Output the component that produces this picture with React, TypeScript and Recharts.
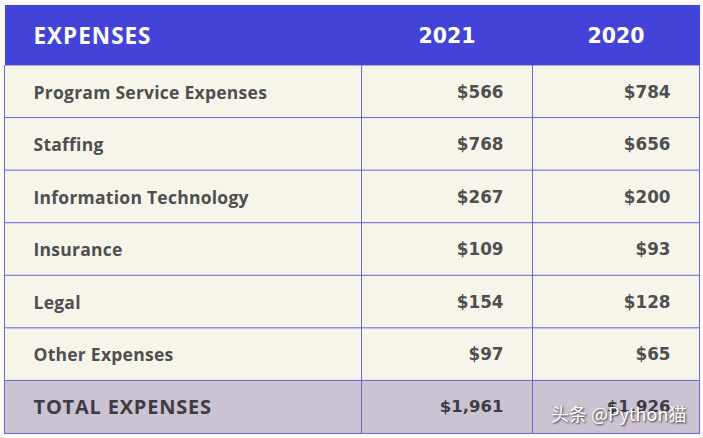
import React from 'react';
import { BarChart, Bar, XAxis, YAxis } from 'recharts';

const headers = ['EXPENSES', '2021', '2020'];
const rowLabels = [
  'Program Service Expenses',
  'Staffing',
  'Information Technology',
  'Insurance',
  'Legal',
  'Other Expenses',
  'TOTAL EXPENSES',
];
const values2021 = [566, 768, 267, 109, 154, 97, 1961];
const values2020 = [784, 656, 200, 93, 128, 65, 1926];

const COL_WIDTHS = [357, 171, 167];
const TABLE_W = COL_WIDTHS[0] + COL_WIDTHS[1] + COL_WIDTHS[2];

const BLUE = '#4343D9';
const CREAM = '#F7F5E9';
const TOTAL_BG = '#CBC2D2';
const LINE = '#6C66D6';
const TEXT = '#4F4F4F';
const TOTAL_TEXT = '#3E3B42';
const FONT = '"Open Sans", "Noto Sans", sans-serif';
const NUM_FONT = '"DejaVu Sans", "Open Sans", sans-serif';

const data = rowLabels.map((name, i) => ({
  name,
  colLabel: COL_WIDTHS[0],
  col2021: COL_WIDTHS[1],
  col2020: COL_WIDTHS[2],
  v2021: values2021[i],
  v2020: values2020[i],
  isTotal: i === rowLabels.length - 1,
}));

const fmt = (v: number) => '$' + v.toLocaleString('en-US');

const makeShape = (kind: 'label' | 'v2021' | 'v2020') => (props: any) => {
  const { x, y, width, height, payload } = props;
  const p = payload || {};
  const total = !!p.isTotal;
  const fill = total ? TOTAL_BG : CREAM;
  const color = total ? TOTAL_TEXT : TEXT;
  const isLabel = kind === 'label';
  const fs = isLabel ? (total ? 20 : 17.5) : total ? 16.5 : 16.8;
  const ls = isLabel ? (total ? 0.8 : 0.25) : 0;
  const txt = isLabel ? p.name : fmt(kind === 'v2021' ? p.v2021 : p.v2020);
  const tx = isLabel ? x + 29 : x + width - 29;
  return (
    <g>
      <rect x={x} y={y} width={width} height={height} fill={fill} stroke={LINE} strokeWidth={1} />
      <text
        x={tx}
        y={y + height / 2}
        textAnchor={isLabel ? 'start' : 'end'}
        dominantBaseline="central"
        fontFamily={isLabel ? FONT : NUM_FONT}
        fontWeight={700}
        fontSize={fs}
        letterSpacing={ls}
        fill={color}
      >
        {txt}
      </text>
    </g>
  );
};

const LabelShape = makeShape('label');
const V2021Shape = makeShape('v2021');
const V2020Shape = makeShape('v2020');

export default function App() {
  return (
    <div style={{ position: 'absolute', left: 0, top: 0, width: 703, height: 438, background: '#FBFAF6', overflow: 'hidden' }}>
      <div
        style={{
          position: 'absolute',
          left: 4.5,
          top: 5,
          width: TABLE_W,
          height: 60,
          background: BLUE,
          color: '#FFFFFF',
          fontWeight: 700,
        }}
      >
        <span style={{ position: 'absolute', left: 29, top: 1, lineHeight: '60px', fontFamily: FONT, fontSize: 22.5, letterSpacing: 1 }}>{headers[0]}</span>
        <span style={{ position: 'absolute', left: COL_WIDTHS[0], width: COL_WIDTHS[1], top: 1, lineHeight: '60px', textAlign: 'center', fontFamily: NUM_FONT, fontSize: 20.5 }}>{headers[1]}</span>
        <span style={{ position: 'absolute', left: COL_WIDTHS[0] + COL_WIDTHS[1], width: COL_WIDTHS[2], top: 1, lineHeight: '60px', textAlign: 'center', fontFamily: NUM_FONT, fontSize: 20.5 }}>{headers[2]}</span>
      </div>
      <div style={{ position: 'absolute', left: 0, top: 65 }}>
        <BarChart
          width={703}
          height={369}
          data={data}
          layout="vertical"
          margin={{ top: 0, right: 3.5, bottom: 1, left: 4.5 }}
          barCategoryGap={0}
          barGap={0}
        >
          <XAxis type="number" hide domain={[0, TABLE_W]} />
          <YAxis type="category" dataKey="name" hide />
          <Bar dataKey="colLabel" stackId="t" shape={LabelShape} isAnimationActive={false} />
          <Bar dataKey="col2021" stackId="t" shape={V2021Shape} isAnimationActive={false} />
          <Bar dataKey="col2020" stackId="t" shape={V2020Shape} isAnimationActive={false} />
        </BarChart>
      </div>
      <div
        style={{
          position: 'absolute',
          left: 551,
          top: 400,
          fontFamily: '"Noto Sans CJK SC", sans-serif',
          fontSize: 18,
          color: '#FFFFFF',
          textShadow: '1px 1px 2px rgba(0,0,0,0.75)',
          whiteSpace: 'nowrap',
        }}
      >
        头条 @Python猫
      </div>
    </div>
  );
}
